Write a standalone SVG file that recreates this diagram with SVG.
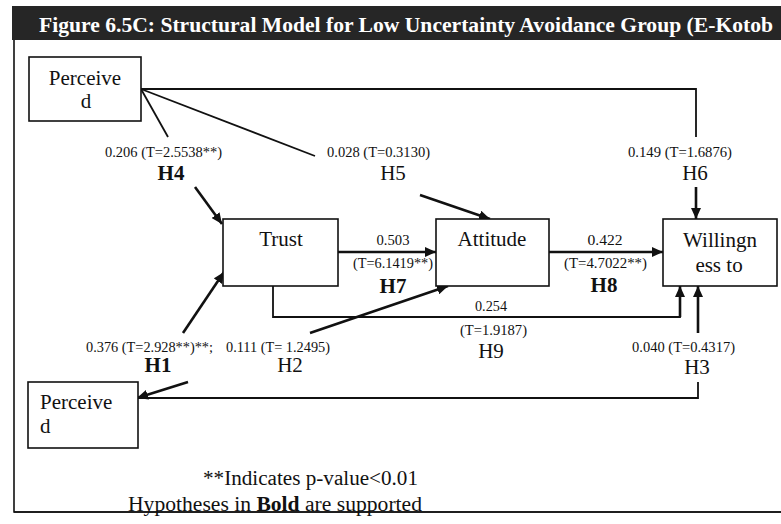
<svg xmlns="http://www.w3.org/2000/svg" width="781" height="524" viewBox="0 0 781 524">
  <style>
    .box { fill: #fff; stroke: #111; stroke-width: 1.6; }
    .node { font-family: "Liberation Serif", "Times New Roman", serif; font-size: 21px; fill: #111; }
    .lbl { font-family: "Liberation Serif", "Times New Roman", serif; font-size: 14px; fill: #111; }
    .hyp { font-family: "Liberation Serif", "Times New Roman", serif; font-size: 21px; fill: #111; text-anchor: middle; }
    .hb { font-weight: bold; }
    .line { fill: none; stroke: #111; stroke-width: 1.8; }
    .arr { fill: none; stroke: #111; stroke-width: 2.6; marker-end: url(#head); }
    .note { font-family: "Liberation Serif", "Times New Roman", serif; font-size: 20px; fill: #111; }
  </style>
  <defs>
    <marker id="head" markerUnits="userSpaceOnUse" markerWidth="11" markerHeight="10" refX="11" refY="5" orient="auto">
      <path d="M0,0 L11,5 L0,10 z" fill="#111"/>
    </marker>
  </defs>

  <rect width="781" height="524" fill="#fff"/>

  <!-- title bar -->
  <rect x="12" y="6" width="769" height="34" fill="#262626"/>
  <text x="39" y="32" font-family="Liberation Serif, serif" font-size="21" font-weight="bold" fill="#fff" textLength="734" lengthAdjust="spacingAndGlyphs">Figure 6.5C: Structural Model for Low Uncertainty Avoidance Group (E-Kotob</text>

  <!-- frame -->
  <path d="M14,40 V512 H781" fill="none" stroke="#111" stroke-width="1.6"/>

  <!-- connectors -->
  <g id="connectors">
    <!-- Perceived (top) to Willingness: H6 -->
    <path class="line" d="M141,89 H696 V137"/>
    <line class="arr" x1="696" y1="187" x2="696" y2="219" stroke-width="3"/>
    <!-- Perceived (top) to Trust: H4 -->
    <line class="line" x1="141" y1="89" x2="168" y2="137"/>
    <line class="arr" x1="195" y1="187" x2="222" y2="224"/>
    <!-- Perceived (top) to Attitude: H5 -->
    <line class="line" x1="141" y1="89" x2="315" y2="156"/>
    <line class="arr" x1="420" y1="195" x2="490" y2="219"/>
    <!-- Trust to Attitude: H7 -->
    <line class="arr" x1="338" y1="252" x2="436" y2="252" stroke-width="3.2"/>
    <!-- Attitude to Willingness: H8 -->
    <line class="arr" x1="549" y1="252" x2="663" y2="252" stroke-width="3.2"/>
    <!-- Trust to Willingness: H9 -->
    <path class="line" d="M273,286 V317 H680 V300"/>
    <line class="arr" x1="680" y1="317" x2="680" y2="286" stroke-width="3"/>
    <!-- Perceived (bottom) to Trust: H1 -->
    <line class="arr" x1="183" y1="333" x2="224" y2="272"/>
    <line class="arr" x1="188" y1="382" x2="137" y2="398"/>
    <!-- Perceived (bottom) to Attitude: H2 -->
    <line class="arr" x1="310" y1="333" x2="448" y2="286"/>
    <!-- Perceived (bottom) to Willingness: H3 -->
    <path class="line" d="M138,398 H698 V382"/>
    <line class="arr" x1="698" y1="333" x2="698" y2="286" stroke-width="3"/>
  </g>

  <!-- nodes -->
  <g id="perceived-top">
    <rect class="box" x="29" y="57" width="112" height="64"/>
    <text class="node" x="85" y="85" text-anchor="middle">Perceive</text>
    <text class="node" x="86" y="108" text-anchor="middle">d</text>
  </g>
  <g id="trust">
    <rect class="box" x="223" y="219" width="115" height="67"/>
    <text class="node" x="281" y="246" text-anchor="middle">Trust</text>
  </g>
  <g id="attitude">
    <rect class="box" x="436" y="219" width="113" height="67"/>
    <text class="node" x="492" y="246" text-anchor="middle">Attitude</text>
  </g>
  <g id="willingness">
    <rect class="box" x="663" y="219" width="114" height="67"/>
    <text class="node" x="720" y="247" text-anchor="middle">Willingn</text>
    <text class="node" x="719" y="272" text-anchor="middle">ess to</text>
  </g>
  <g id="perceived-bottom">
    <rect class="box" x="28" y="382" width="110" height="66"/>
    <text class="node" x="40" y="409">Perceive</text>
    <text class="node" x="40" y="433">d</text>
  </g>

  <!-- path coefficients -->
  <g id="labels">
    <text class="lbl" x="105" y="157" textLength="117" lengthAdjust="spacingAndGlyphs">0.206 (T=2.5538**)</text>
    <text class="hyp hb" x="171" y="180">H4</text>
    <text class="lbl" x="327" y="157" textLength="103" lengthAdjust="spacingAndGlyphs">0.028 (T=0.3130)</text>
    <text class="hyp" x="393" y="180">H5</text>
    <text class="lbl" x="628" y="157" textLength="104" lengthAdjust="spacingAndGlyphs">0.149 (T=1.6876)</text>
    <text class="hyp" x="695" y="180">H6</text>

    <text class="lbl" x="393" y="245" text-anchor="middle" textLength="33" lengthAdjust="spacingAndGlyphs">0.503</text>
    <text class="lbl" x="353" y="268" textLength="80" lengthAdjust="spacingAndGlyphs">(T=6.1419**)</text>
    <text class="hyp hb" x="393" y="293">H7</text>

    <text class="lbl" x="605" y="245" text-anchor="middle" textLength="35" lengthAdjust="spacingAndGlyphs">0.422</text>
    <text class="lbl" x="564" y="268" textLength="83" lengthAdjust="spacingAndGlyphs">(T=4.7022**)</text>
    <text class="hyp hb" x="604" y="292">H8</text>

    <text class="lbl" x="491" y="311" text-anchor="middle" textLength="32" lengthAdjust="spacingAndGlyphs">0.254</text>
    <text class="lbl" x="460" y="335" textLength="67" lengthAdjust="spacingAndGlyphs">(T=1.9187)</text>
    <text class="hyp" x="491" y="358">H9</text>

    <text class="lbl" x="86" y="352" textLength="127" lengthAdjust="spacingAndGlyphs">0.376 (T=2.928**)**;</text>
    <text class="hyp hb" x="158" y="372" font-size="19">H1</text>
    <text class="lbl" x="226" y="352" textLength="104" lengthAdjust="spacingAndGlyphs">0.111 (T= 1.2495)</text>
    <text class="hyp" x="290" y="372" font-size="19">H2</text>

    <text class="lbl" x="632" y="352" textLength="103" lengthAdjust="spacingAndGlyphs">0.040 (T=0.4317)</text>
    <text class="hyp" x="697" y="374" font-size="19">H3</text>
  </g>

  <!-- notes -->
  <text class="note" x="203" y="485" textLength="215" lengthAdjust="spacingAndGlyphs">**Indicates p-value&lt;0.01</text>
  <text class="note" x="128" y="511" font-size="19" textLength="294" lengthAdjust="spacingAndGlyphs">Hypotheses in <tspan font-weight="bold">Bold</tspan> are supported</text>
  <line x1="14" y1="512" x2="781" y2="512" stroke="#111" stroke-width="1.6"/>
</svg>
